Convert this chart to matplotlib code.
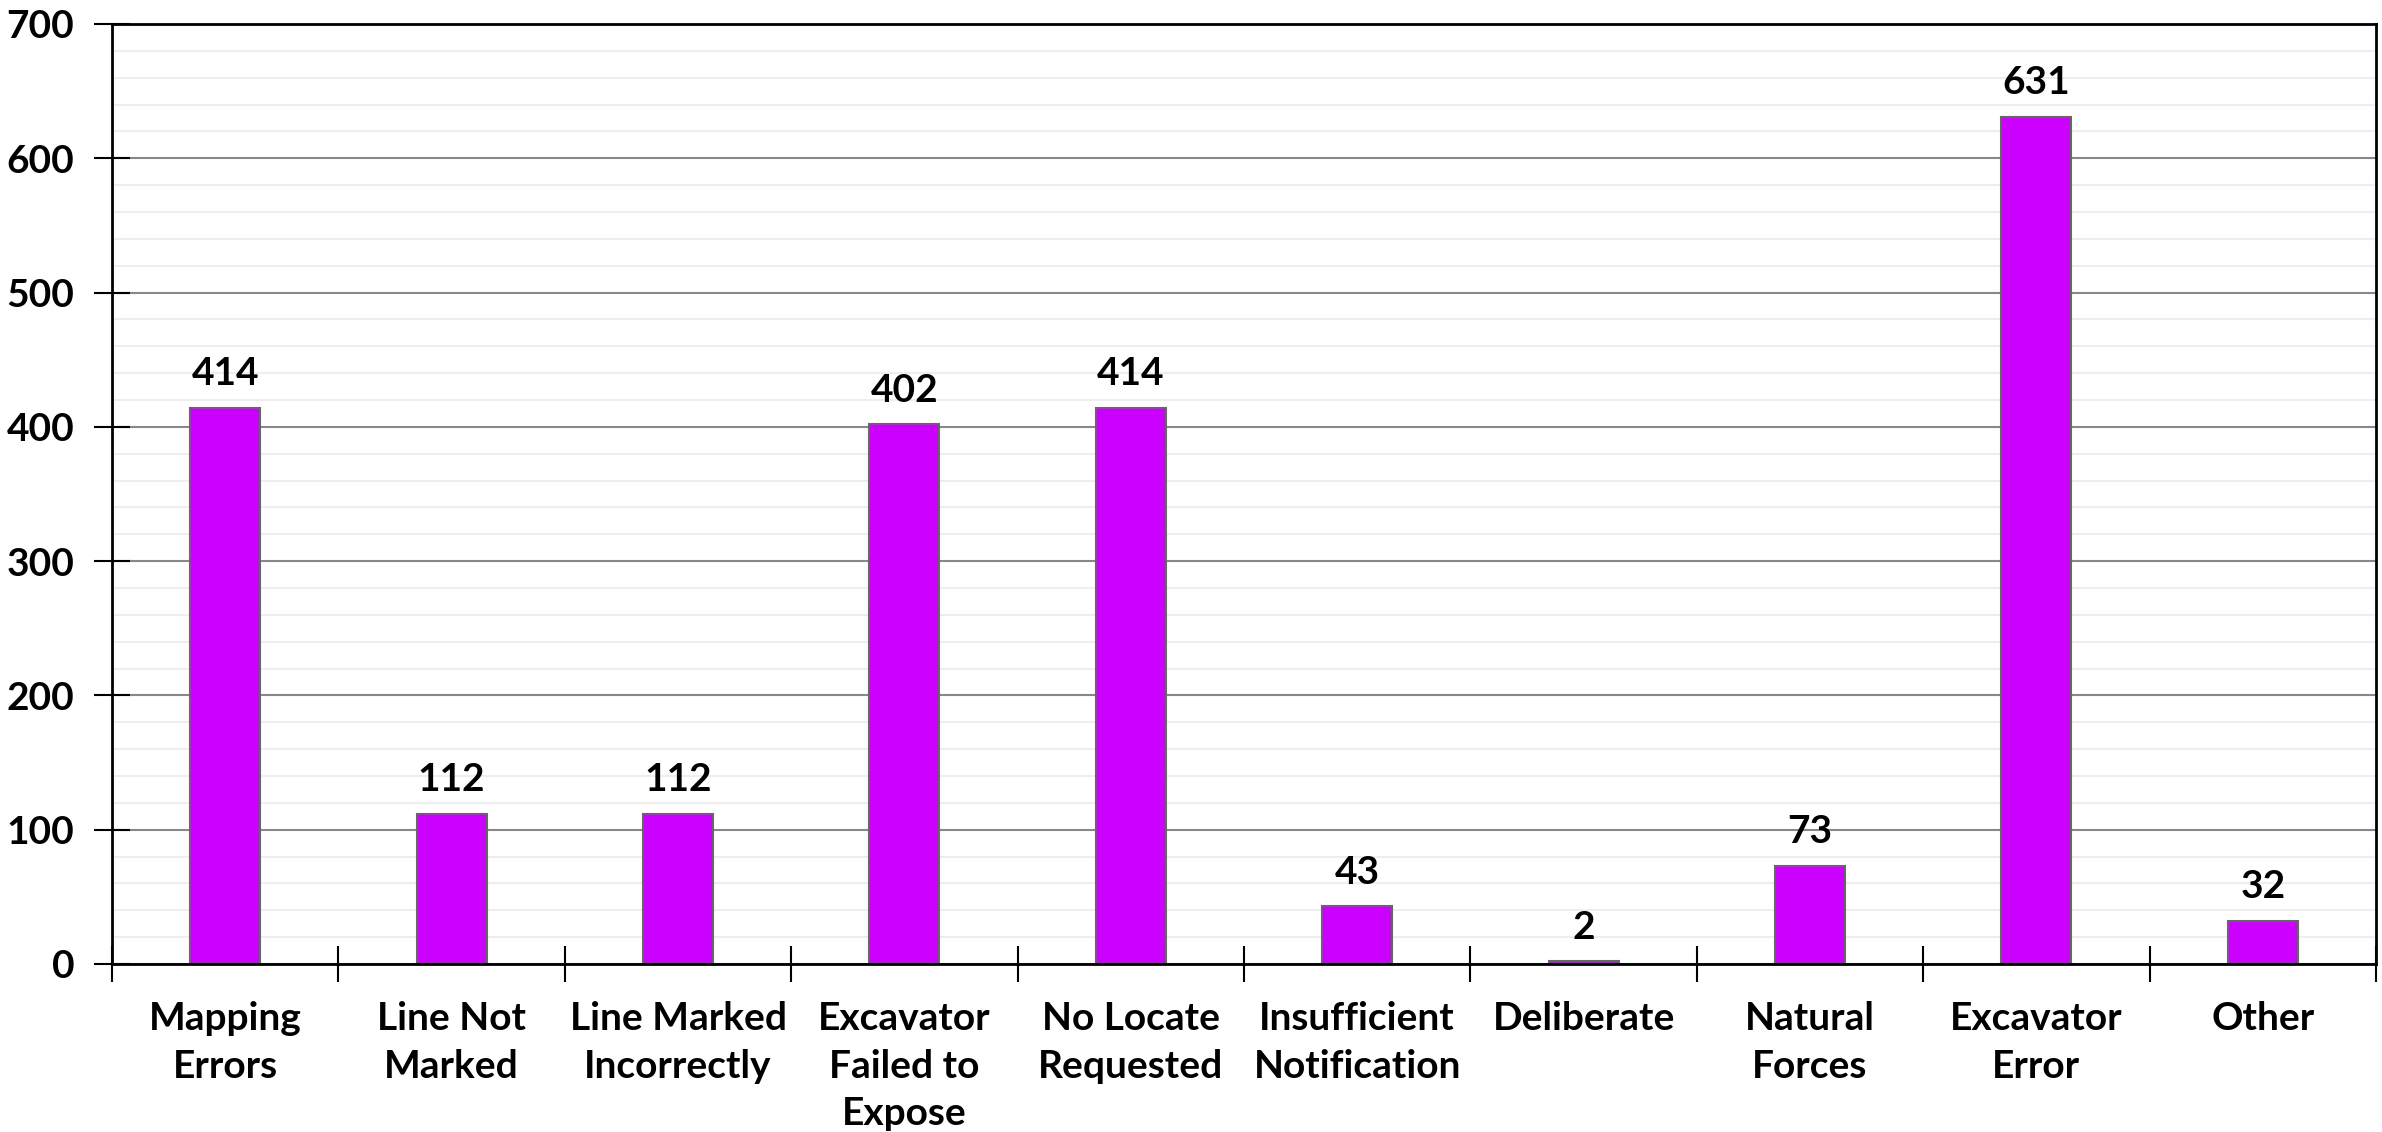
import matplotlib.pyplot as plt
from matplotlib.ticker import MultipleLocator, FixedLocator, NullFormatter

plt.rcParams['font.family'] = ['Lato', 'DejaVu Sans']

# Causes of damage and their counts
causes = ["Mapping\nErrors", "Line Not\nMarked", "Line Marked\nIncorrectly",
          "Excavator\nFailed to\nExpose", "No Locate\nRequested", "Insufficient\nNotification",
          "Deliberate", "Natural\nForces", "Excavator\nError", "Other"]
counts = [414, 112, 112, 402, 414, 43, 2, 73, 631, 32]

fig = plt.figure(figsize=(23.82, 11.32), dpi=100)
ax = fig.add_axes([112 / 2382, 1 - 964 / 1132, (2376 - 112) / 2382, (964 - 24) / 1132])

x = list(range(len(causes)))
bars = ax.bar(x, counts, width=0.31, color="#CC00FF", edgecolor="#666666", linewidth=1.5, zorder=3)

for b, v in zip(bars, counts):
    ax.annotate(str(v), (b.get_x() + b.get_width() / 2, v), xytext=(0, 12),
                textcoords="offset points", ha="center", va="bottom",
                fontsize=28, fontweight="bold")

ax.set_xlim(-0.5, len(causes) - 0.5)
ax.set_ylim(0, 700)

# y axis: major ticks every 100, light minor grid every 20
ax.yaxis.set_major_locator(MultipleLocator(100))
ax.yaxis.set_minor_locator(MultipleLocator(20))
ax.grid(axis="y", which="major", color="#888888", linewidth=1.5, zorder=1)
ax.grid(axis="y", which="minor", color="#eeeeee", linewidth=1.5, zorder=0)
ax.tick_params(axis="y", which="major", direction="inout", length=26, width=1.5,
               labelsize=28, pad=14)
ax.tick_params(axis="y", which="minor", length=0)

# x axis: labels at bar centres, tick marks at category boundaries
ax.set_xticks(x)
ax.set_xticklabels(causes, fontsize=28, fontweight="bold", linespacing=1.43)
ax.tick_params(axis="x", which="major", length=0, pad=27)
ax.xaxis.set_minor_locator(FixedLocator([i + 0.5 for i in range(-1, len(causes))]))
ax.xaxis.set_minor_formatter(NullFormatter())
ax.tick_params(axis="x", which="minor", direction="inout", length=26, width=1.5)

for lbl in ax.get_yticklabels():
    lbl.set_fontweight("bold")

for s in ax.spines.values():
    s.set_color("black")
    s.set_linewidth(2)
    s.set_zorder(4)

fig.savefig("out.png", dpi=100)
